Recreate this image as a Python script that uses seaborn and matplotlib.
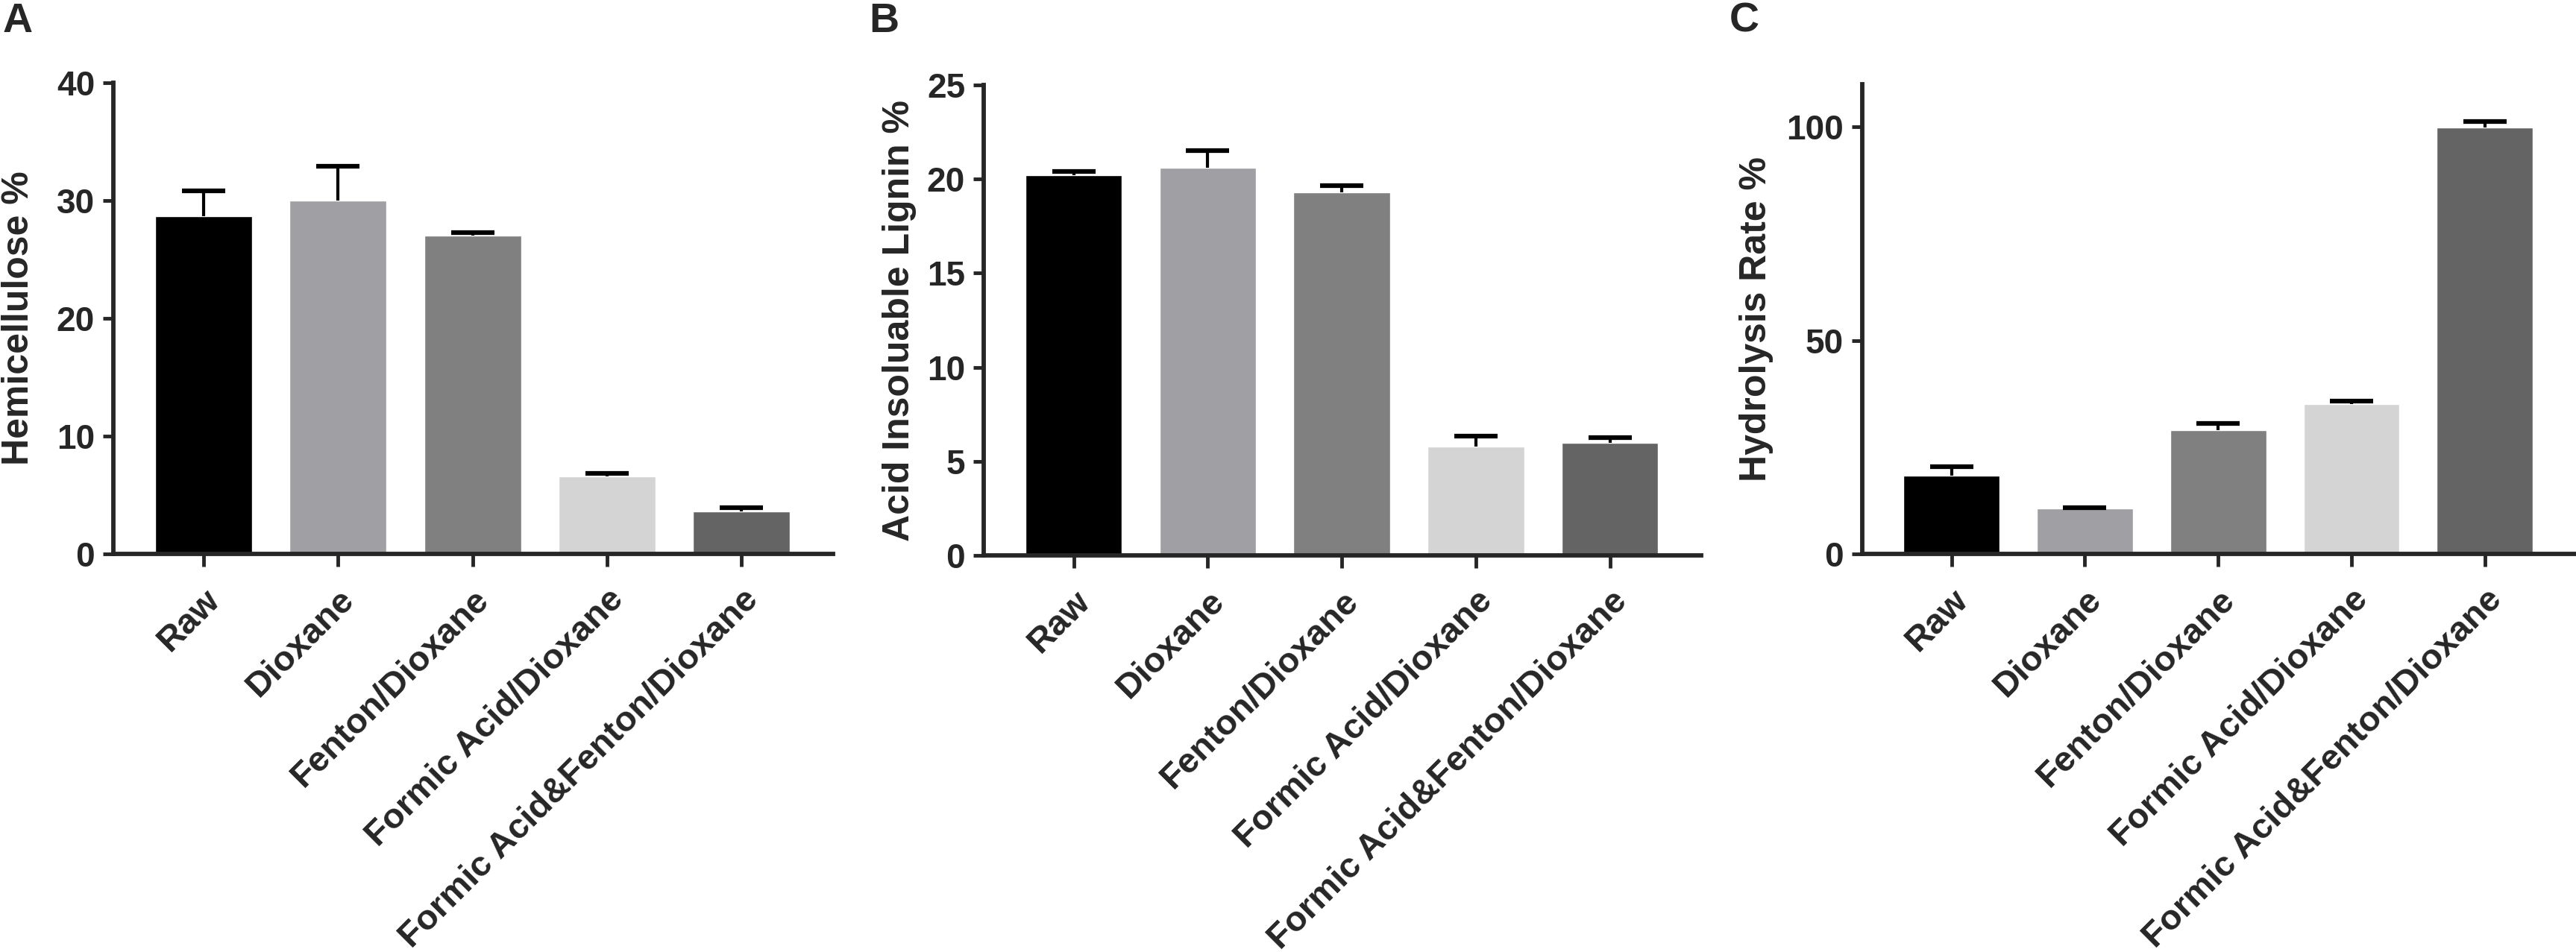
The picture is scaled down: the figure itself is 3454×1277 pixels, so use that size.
import numpy as np
import pandas as pd
import matplotlib
matplotlib.use("Agg")
import matplotlib.pyplot as plt
import seaborn as sns

# treatments shown on every panel
treatments = ['Raw', 'Dioxane', 'Fenton/Dioxane', 'Formic Acid/Dioxane', 'Formic Acid&Fenton/Dioxane']
bar_colors = ['#000000', '#a0a0a4', '#808080', '#d4d4d4', '#646464']

# values (mean, upper error)
hemicellulose = [28.7, 30.0, 27.0, 6.6, 3.6]
hemicellulose_err = [2.1, 2.9, 0.25, 0.25, 0.3]

lignin = [20.2, 20.6, 19.3, 5.8, 6.0]
lignin_err = [0.2, 0.9, 0.35, 0.55, 0.25]

hydrolysis = [18.3, 10.6, 29.0, 35.0, 99.8]
hydrolysis_err = [2.2, 0.3, 1.5, 0.7, 1.4]

sns.set_theme(style="ticks")
plt.rcParams['font.family'] = ['Liberation Sans', 'DejaVu Sans']
plt.rcParams['font.weight'] = 'bold'

fig = plt.figure(figsize=(34.55, 12.77), dpi=100)

# axes boxes in figure fractions (left, bottom, width, height)
panels = [
    dict(letter='A', rect=[0.0440, 0.4182, 0.2793, 0.4949], values=hemicellulose, err=hemicellulose_err,
         ylabel='Hemicellulose %', ylim=(0, 40), yticks=[0, 10, 20, 30, 40], lx=0.001, labx=-0.108),
    dict(letter='B', rect=[0.3818, 0.4166, 0.2784, 0.4941], values=lignin, err=lignin_err,
         ylabel='Acid Insoluable Lignin %', ylim=(0, 25), yticks=[0, 5, 10, 15, 20, 25], lx=0.3372, labx=-0.094),
    dict(letter='C', rect=[0.7227, 0.4182, 0.2768, 0.4934], values=hydrolysis, err=hydrolysis_err,
         ylabel='Hydrolysis Rate %', ylim=(0, 110), yticks=[0, 50, 100], lx=0.6712, labx=-0.124),
]

for p in panels:
    ax = fig.add_axes(p['rect'])
    df = pd.DataFrame({'Treatment': treatments, 'Value': p['values']})
    sns.barplot(data=df, x='Treatment', y='Value', hue='Treatment', palette=bar_colors,
                legend=False, errorbar=None, width=0.72, saturation=1, ax=ax)

    # one-sided (upper) error bars like the original
    centers = [b.get_x() + b.get_width() / 2 for b in ax.patches]
    err = np.array(p['err'])
    eb = ax.errorbar(centers, p['values'], yerr=[np.zeros_like(err), err], fmt='none',
                     ecolor='black', elinewidth=3, capsize=21, capthick=4.5, zorder=3)
    # hide the cap sitting on the bar top (lower side has zero error)
    for cap in eb[1]:
        if np.allclose(cap.get_ydata(), p['values']):
            cap.set_visible(False)

    ax.set_xlim(-0.67, 4.68)
    ax.set_ylim(*p['ylim'])
    ax.set_yticks(p['yticks'])
    ax.set_xlabel('')
    ax.set_ylabel(p['ylabel'], fontsize=36, fontweight='bold')
    ax.yaxis.set_label_coords(p['labx'], 0.5)

    ax.set_xticks(range(len(treatments)))
    ax.set_xticklabels(treatments, rotation=45, ha='right', rotation_mode='anchor',
                       fontsize=34, fontweight='bold')
    ax.tick_params(axis='y', labelsize=33, width=3.5, length=10, pad=8)
    ax.tick_params(axis='x', width=3.5, length=12, pad=16)
    for lab in ax.get_yticklabels():
        lab.set_fontweight('bold')

    sns.despine(ax=ax)
    for side in ['left', 'bottom']:
        ax.spines[side].set_linewidth(4.2)

    fig.text(p['lx'], 0.998, p['letter'], fontsize=40, fontweight='bold', va='top', ha='left')

fig.savefig('out.png', dpi=100)
